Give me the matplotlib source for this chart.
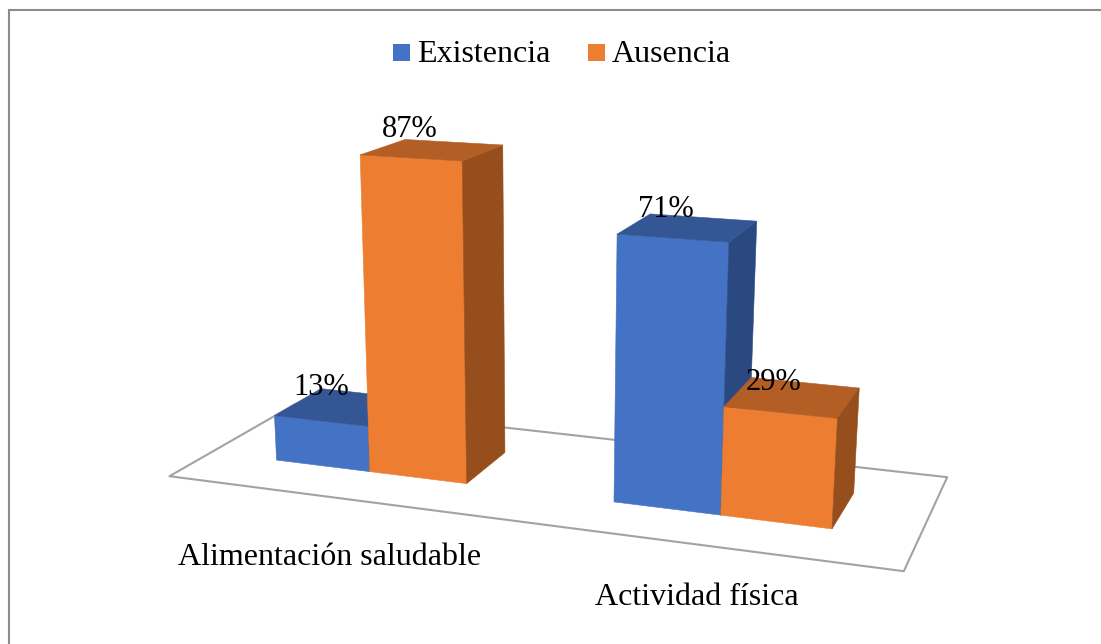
import numpy as np
import matplotlib
matplotlib.use("Agg")
import matplotlib.pyplot as plt
from matplotlib.patches import Patch
from matplotlib.lines import Line2D
from matplotlib.legend_handler import HandlerPatch
from mpl_toolkits.mplot3d import Axes3D  # noqa: F401
from mpl_toolkits.mplot3d.art3d import Poly3DCollection

plt.rcParams['font.family'] = ['Liberation Serif', 'DejaVu Serif']

# ---- data ----
categories = ["Alimentación saludable", "Actividad física"]
series_names = ["Existencia", "Ausencia"]
existencia = [13, 71]
ausencia = [87, 29]

# ---- style / layout ----
W, H = 1101, 644
FRONT = {"Existencia": "#4472C4", "Ausencia": "#ED7D31"}
TOP = {"Existencia": "#345694", "Ausencia": "#B25E25"}
SIDE = {"Existencia": "#2B4981", "Ausencia": "#964F1C"}
bar_left = [0.0, 1.0, 3.45, 4.45]     # world x of each bar (width 1, depth 1)

# Camera calibration: world (x, depth, percent) -> picture pixel
calib = [
    (0, 0, 0, 277, 460), (1, 0, 0, 369, 471.3), (0, 0, 13, 275.3, 416),
    (1, 0, 13, 368, 427), (2, 0, 0, 465, 483.3), (2, 1, 0, 504, 451.7),
    (1, 0, 87, 360.7, 155), (2, 0, 87, 460.7, 161), (2, 1, 87, 501.7, 145),
    (1, 1, 87, 406, 139.3), (3.45, 0, 71, 618, 234), (4.45, 0, 71, 728.3, 241.7),
    (4.45, 1, 71, 756.7, 221), (3.45, 1, 71, 651.7, 214), (3.45, 0, 0, 616, 502.3),
    (4.45, 0, 0, 721.7, 515), (4.45, 0, 29, 724.3, 407.3), (5.45, 0, 29, 836.7, 418.3),
    (5.45, 1, 29, 858.3, 388.3), (4.45, 1, 29, 751.7, 378.3), (5.45, 0, 0, 831.7, 528.3),
    (5.45, 1, 0, 854, 493.3),
]
floor_px = [(169, 475.7), (903.3, 570.7), (946.7, 476.7), (295, 403.5)]


def fit_camera(rows):
    A = []
    for x, y, z, u, v in rows:
        X = [x, y, z / 100.0, 1.0]
        u, v = u / 1000.0, v / 1000.0
        A.append(X + [0, 0, 0, 0] + [-u * c for c in X])
        A.append([0, 0, 0, 0] + X + [-v * c for c in X])
    p = np.linalg.svd(np.array(A))[2][-1].reshape(3, 4)
    return np.diag([1000.0, 1000.0, 1.0]) @ p @ np.diag([1, 1, 0.01, 1])


P = fit_camera(calib)


def project(x, y, z):
    q = P @ np.array([x, y, z, 1.0])
    return q[0] / q[2], q[1] / q[2]


Hf = np.linalg.inv(P[:, [0, 1, 3]])
floor_world = []
for u, v in floor_px:
    q = Hf @ np.array([u, v, 1.0])
    floor_world.append((q[0] / q[2], q[1] / q[2], 0.0))

fig = plt.figure(figsize=(W / 100, H / 100), dpi=100, facecolor="white")
ax = fig.add_axes([0, 0, 1, 1], projection="3d", computed_zorder=False)
ax.set_axis_off()
ax.patch.set_alpha(0)
ax.set_xticks([])
ax.set_yticks([])
ax.set_zticks([])


def get_proj():
    A = ax.transData.get_matrix()
    flip = np.array([[1.0, 0, 0], [0, -1.0, H], [0, 0, 1.0]])
    Q = np.linalg.inv(A) @ flip @ P
    return np.vstack([Q[0], Q[1], [0, 1.0, 0, 0], Q[2]])


ax.get_proj = get_proj

# floor outline
floor = Poly3DCollection([floor_world], facecolors=[(1, 1, 1, 0)], edgecolors=["#A3A3A3"],
                         linewidths=1.5, zorder=1)
floor.set_clip_on(False)
ax.add_collection3d(floor)

# bars
values = [existencia[0], ausencia[0], existencia[1], ausencia[1]]
names = [series_names[0], series_names[1], series_names[0], series_names[1]]
none = (0, 0, 0, 0)
for i, (left, val, name) in enumerate(zip(bar_left, values, names)):
    # faces: bottom, top, front, back, left, right
    cols = [none, TOP[name], FRONT[name], none, none, SIDE[name]]
    col = ax.bar3d(left, 0, 0, 1, 1, val, color=cols, shade=False, zorder=2 + i)
    col.set_clip_on(False)
    col.set_edgecolor(cols)
    col.set_linewidth(0.4)

# value labels, anchored on the back-left corner of each bar top
label_dx = [0.0, 0.05, 0.15, 0.215]
label_dz = [-1.9, 0.75, -0.45, -2.7]
for left, val, dx, dz in zip(bar_left, values, label_dx, label_dz):
    px, py = project(left + dx, 1, val + dz)
    fig.text(px / W, 1 - py / H, f"{val}%", fontsize=22, color="black",
             ha="center", va="baseline", zorder=10)

# category labels
cat_xy = [(329.5, 565), (697, 605)]
for (px, py), name in zip(cat_xy, categories):
    fig.text(px / W, 1 - py / H, name, fontsize=23, color="black",
             ha="center", va="baseline")

# legend
handles = [Patch(facecolor=FRONT[n], edgecolor="none", label=n) for n in series_names]
fig.legend(handles=handles, loc="center", bbox_to_anchor=(562 / W, 1 - 54 / H),
           ncol=2, frameon=False, fontsize=23, handlelength=0.53, handleheight=0.187,
           handletextpad=0.22, columnspacing=1.19, borderpad=0, borderaxespad=0,
           handler_map={Patch: HandlerPatch(ypad=-0.164)})

# chart frame: only top and left edges fall inside the picture
fig.add_artist(Line2D([8.5 / W, 8.5 / W, 1], [0, 1 - 9.5 / H, 1 - 9.5 / H],
                      transform=fig.transFigure, color="#8C8C8C", lw=1.5,
                      solid_joinstyle="miter"))

fig.savefig("out.png", dpi=100, facecolor="white")
